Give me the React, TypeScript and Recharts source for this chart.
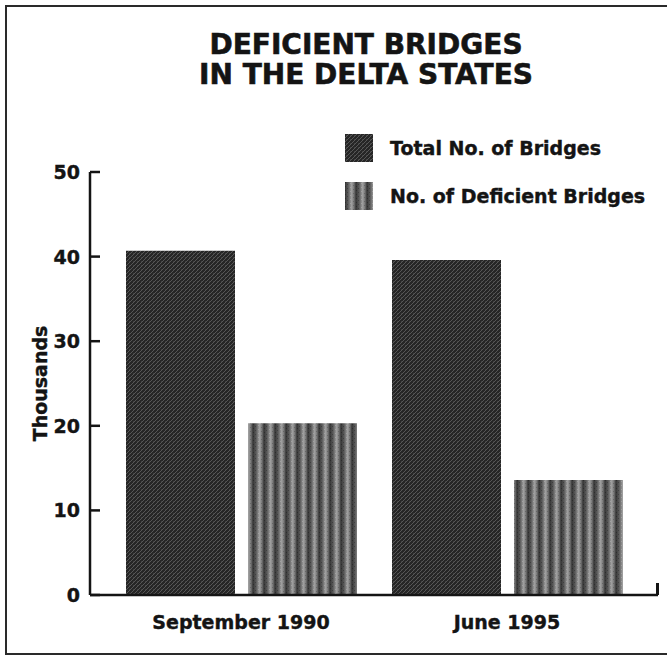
import { BarChart, Bar, XAxis, YAxis, Legend } from 'recharts';

const categories = ['September 1990', 'June 1995'];
const totalBridges = [40.7, 39.6];
const deficientBridges = [20.3, 13.6];
const yTicks = [0, 10, 20, 30, 40, 50];
const seriesOrder = ['total', 'deficient'];

const data = categories.map((name, i) => ({
  name,
  total: totalBridges[i],
  deficient: deficientBridges[i],
}));

const FONT = '"DejaVu Sans", sans-serif';
const INK = '#141414';

function YTick(props: any) {
  const { x, y, payload } = props;
  return (
    <g>
      <text
        x={x}
        y={y}
        dy={7}
        textAnchor="end"
        fontFamily={FONT}
        fontWeight="bold"
        fontSize={19}
        fill={INK}
        stroke={INK}
        strokeWidth={0.4}
      >
        {payload.value}
      </text>
      <line x1={x + 10} x2={x + 20} y1={y} y2={y} stroke={INK} strokeWidth={2.5} />
    </g>
  );
}

function LegendBox(props: any) {
  const items = [...(props.payload || [])].sort(
    (a: any, b: any) => seriesOrder.indexOf(a.dataKey) - seriesOrder.indexOf(b.dataKey)
  );
  return (
    <div style={{ fontFamily: FONT, fontWeight: 'bold', fontSize: 19, color: INK, WebkitTextStroke: '0.4px #141414' }}>
      {items.map((p: any) => (
        <div key={p.value} style={{ display: 'flex', alignItems: 'center', height: 28, marginBottom: 20 }}>
          <svg width={28} height={28} style={{ marginRight: 17 }}>
            <rect width={28} height={28} fill={p.color} />
          </svg>
          <span>{p.value}</span>
        </div>
      ))}
    </div>
  );
}

export default function App() {
  return (
    <div style={{ position: 'absolute', left: 0, top: 0, width: 667, height: 655, background: '#fff' }}>
      <div
        style={{
          position: 'absolute',
          left: 5,
          top: 5,
          width: 662,
          height: 650,
          boxSizing: 'border-box',
          borderLeft: '2px solid #2a2a2a',
          borderTop: '2px solid #2a2a2a',
          borderBottom: '2px solid #2a2a2a',
        }}
      />
      <div
        style={{
          position: 'absolute',
          left: 166,
          top: 30,
          width: 400,
          textAlign: 'center',
          fontFamily: FONT,
          fontWeight: 'bold',
          fontSize: 28,
          lineHeight: '30px',
          color: INK,
          WebkitTextStroke: '0.6px #141414',
        }}
      >
        DEFICIENT BRIDGES
        <br />
        IN THE DELTA STATES
      </div>
      <div style={{ position: 'absolute', left: 0, top: 0 }}>
        <BarChart
          width={667}
          height={655}
          data={data}
          margin={{ top: 172, right: 9, bottom: 30, left: 30 }}
          barSize={109}
          barGap={13}
        >
          <defs>
            <pattern id="patTotal" width={4} height={4} patternUnits="userSpaceOnUse">
              <rect width={4} height={4} fill="#262626" />
              <path d="M0,4 L4,0 M-1,1 L1,-1 M3,5 L5,3" stroke="#575757" strokeWidth={1} />
              <rect x={1} y={1} width={1} height={1} fill="#3e3e3e" />
            </pattern>
            <linearGradient id="stripeGrad" x1="0" x2="1" y1="0" y2="0">
              <stop offset="0" stopColor="#363636" />
              <stop offset="0.3" stopColor="#5e5e5e" />
              <stop offset="0.6" stopColor="#a0a0a0" />
              <stop offset="0.8" stopColor="#7a7a7a" />
              <stop offset="1" stopColor="#363636" />
            </linearGradient>
            <pattern id="patDef" width={11} height={4} patternUnits="userSpaceOnUse">
              <rect width={11} height={4} fill="url(#stripeGrad)" />
              <rect x={0} y={0} width={1} height={1} fill="#000" fillOpacity={0.25} />
              <rect x={2} y={2} width={1} height={1} fill="#000" fillOpacity={0.25} />
              <rect x={5} y={1} width={1} height={1} fill="#fff" fillOpacity={0.2} />
              <rect x={8} y={3} width={1} height={1} fill="#000" fillOpacity={0.2} />
            </pattern>
          </defs>
          <XAxis
            dataKey="name"
            height={30}
            padding={{ left: 18, right: 18 }}
            axisLine={{ stroke: INK, strokeWidth: 2.5 }}
            tickLine={false}
            tickMargin={15}
            tick={{ fontFamily: FONT, fontWeight: 'bold', fontSize: 19, fill: INK, stroke: INK, strokeWidth: 0.4 }}
          />
          <YAxis
            width={60}
            domain={[0, 50]}
            ticks={yTicks}
            interval={0}
            axisLine={{ stroke: INK, strokeWidth: 2.5 }}
            tickLine={false}
            tickMargin={4}
            tick={<YTick />}
            label={{
              value: 'Thousands',
              angle: -90,
              position: 'insideLeft',
              offset: 10,
              style: {
                fontFamily: FONT,
                fontWeight: 'bold',
                fontSize: 19,
                fill: INK,
                stroke: INK,
                strokeWidth: 0.4,
                textAnchor: 'middle',
              },
            }}
          />
          <Legend
            layout="vertical"
            align="center"
            verticalAlign="middle"
            content={<LegendBox />}
            wrapperStyle={{ top: 134, left: 345, width: 'auto', height: 'auto' }}
          />
          <Bar dataKey="total" name="Total No. of Bridges" fill="url(#patTotal)" isAnimationActive={false} />
          <Bar dataKey="deficient" name="No. of Deficient Bridges" fill="url(#patDef)" isAnimationActive={false} />
        </BarChart>
      </div>
      <div style={{ position: 'absolute', left: 656, top: 583, width: 3, height: 12, background: INK }} />
    </div>
  );
}
